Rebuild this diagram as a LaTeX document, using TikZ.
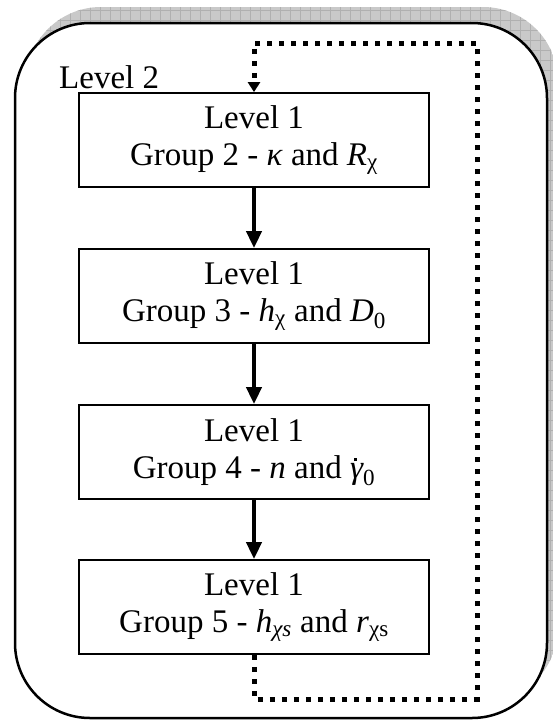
\documentclass[tikz,border=0pt]{standalone}
\usepackage{fontspec}
\setmainfont{Liberation Serif}
\usetikzlibrary{arrows.meta}
% italic gamma carrying a dot above (time derivative)
\newcommand{\gammadot}{{\itshape γ\kern-0.27em\raisebox{0.52em}{\rule{0.1em}{0.1em}}\kern0.17em}}
\begin{document}
\begin{tikzpicture}[x=1pt,y=-1pt,
  bigtext/.style={font=\fontsize{33}{37}\selectfont},
  groupbox/.style={bigtext,draw,line width=1.8pt,fill=white,minimum width=350pt,
    minimum height=94pt,inner sep=0pt,align=center},
  flow/.style={line width=4pt,-{Triangle[width=15pt,length=17pt]}},
  feedback/.style={line width=5pt,dash pattern=on 5pt off 7pt,
    -{Triangle[width=12pt,length=10pt]}},
  outerframe/.style={line width=2.5pt,fill=white,rounded corners=75pt}]
\useasboundingbox (0,0) rectangle (553,721);

% hatched drop shadow of the outer frame
\begin{scope}
  \clip[rounded corners=75pt] (26,7) rectangle (558,702);
  \fill[gray!42] (0,0) rectangle (560,721);
  \draw[gray!62,line width=0.7pt] (0,0) grid[step=10pt] (560,721);
\end{scope}

% outer frame (level 2)
\draw[outerframe] (15,23) rectangle (547,718);
\node[bigtext,anchor=base west,inner sep=0pt] (lvl) at (59,88) {Level 2};

% level 1 groups
\node[groupbox] (g1) at (254,140) {Level 1\\Group 2 - \textit{κ} and \textit{R}\textsubscript{χ}};
\node[groupbox] (g2) at (254,296) {Level 1\\Group 3 - \textit{h}\textsubscript{χ} and \textit{D}\textsubscript{0}};
\node[groupbox] (g3) at (254,452) {Level 1\\Group 4 - \textit{n} and \gammadot\textsubscript{0}};
\node[groupbox] (g4) at (254,607) {Level 1\\Group 5 - \textit{h}\textsubscript{\textit{χs}} and \textit{r}\textsubscript{χs}};

% sequence arrows
\draw[flow] (g1.south) -- (g2.north);
\draw[flow] (g2.south) -- (g3.north);
\draw[flow] (g3.south) -- (g4.north);

% feedback loop back to the first group
\coordinate (lowturn) at (254,699);
\coordinate (lowright) at (477,699);
\coordinate (upright) at (477,43);
\coordinate (upturn) at (254,43);
\draw[feedback] (g4.south) -- (lowturn) -- (lowright) -- (upright) -- (upturn) -- (g1.north);
\end{tikzpicture}
\end{document}
